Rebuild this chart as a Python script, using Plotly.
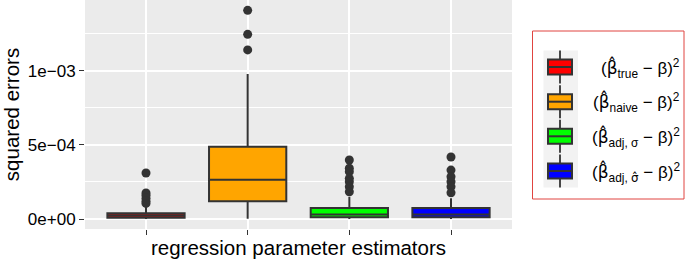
import plotly.graph_objects as go

# ---- data ----
estimators = ["true", "naive", "adj_sigma", "adj_sigmahat"]
positions = [1, 2, 3, 4]
fill_colors = ["#FF0000", "#FFA500", "#00FF00", "#0000FF"]
q1_vals = [0.8e-5, 1.19e-4, 1.1e-5, 1.1e-5]
median_vals = [2.35e-5, 2.65e-4, 3.0e-5, 3.0e-5]
q3_vals = [3.9e-5, 4.88e-4, 7.5e-5, 7.5e-5]
lower_vals = [0.0, 1.0e-6, 0.0, 0.0]
upper_vals = [8.3e-5, 9.78e-4, 1.5e-4, 1.4e-4]
outliers = [
    [3.1e-4, 1.75e-4, 1.6e-4, 1.4e-4, 1.2e-4, 1.05e-4],
    [1.407e-3, 1.245e-3, 1.14e-3],
    [3.98e-4, 3.42e-4, 3.19e-4, 2.74e-4, 2.52e-4, 2.18e-4, 1.84e-4],
    [4.18e-4, 3.30e-4, 2.85e-4, 2.52e-4, 2.18e-4, 1.77e-4],
]
HAT = '<span style="font-family:DejaVu Sans">β\u0302</span>'
legend_labels = [
    "(" + HAT + "<sub>true</sub> \u2212 β)<sup>2</sup>",
    "(" + HAT + "<sub>naive</sub> \u2212 β)<sup>2</sup>",
    "(" + HAT + "<sub>adj, σ</sub> \u2212 β)<sup>2</sup>",
    "(" + HAT + '<sub>adj, <span style="font-family:DejaVu Sans">σ\u0302</span></sub> \u2212 β)<sup>2</sup>',
]
y_tickvals = [0, 5e-4, 1e-3]
y_ticktext = ["0e+00", "5e\u221204", "1e\u221203"]

W, H = 685, 259
L, R, T, B = 85, 512, 0, 229
DARK = "#333333"
FONT = "Liberation Sans, Arial, sans-serif"

def px(x):
    return (x - L) / (R - L)

def py(y):
    return (B - y) / (B - T)

fig = go.Figure()
for i in range(4):
    fig.add_trace(go.Box(
        x=[positions[i]], q1=[q1_vals[i]], median=[median_vals[i]], q3=[q3_vals[i]],
        lowerfence=[lower_vals[i]], upperfence=[upper_vals[i]],
        fillcolor=fill_colors[i], line=dict(color=DARK, width=2),
        width=0.76, whiskerwidth=0, boxpoints=False, showlegend=False,
    ))
    fig.add_trace(go.Scatter(
        x=[positions[i]] * len(outliers[i]), y=outliers[i], mode="markers",
        marker=dict(color=DARK, size=9), showlegend=False,
    ))

fig.update_layout(
    width=W, height=H,
    margin=dict(l=L, r=W - R, t=T, b=H - B, autoexpand=False),
    paper_bgcolor="white", plot_bgcolor="#EBEBEB",
    font=dict(family=FONT, color="black"),
    showlegend=False,
)
fig.update_xaxes(
    range=[0.4, 4.6], tickvals=positions, ticktext=["", "", "", ""],
    showgrid=True, gridcolor="white", gridwidth=1.6, zeroline=False,
    ticks="outside", ticklen=5, tickwidth=1.2, tickcolor=DARK, automargin=False,
    title=dict(text="regression parameter estimators", font=dict(size=20.5, color="black"), standoff=6),
)
fig.update_yaxes(
    range=[-6.74e-5, 1.4767e-3], tickvals=y_tickvals, ticktext=y_ticktext,
    showgrid=True, gridcolor="white", gridwidth=1.6, zeroline=False,
    ticks="outside", ticklen=5, tickwidth=1.2, tickcolor=DARK, automargin=False,
    tickfont=dict(size=17, color="black"),
    minor=dict(tickvals=[2.5e-4, 7.5e-4, 1.25e-3], showgrid=True, gridcolor="white", gridwidth=0.8, ticks=""),
    title=dict(text="squared errors", font=dict(size=20.5, color="black"), standoff=6),
)

# ---- custom legend ----
shapes = []
shapes.append(dict(type="rect", xref="paper", yref="paper",
                   x0=px(532.5), x1=px(684), y0=py(31), y1=py(199),
                   line=dict(color="#E04440", width=1), fillcolor="white", layer="below"))
shapes.append(dict(type="rect", xref="paper", yref="paper",
                   x0=px(543.5), x1=px(578), y0=py(50.5), y1=py(187.5),
                   line=dict(width=0), fillcolor="#F2F2F2"))
centers = [67.0, 101.7, 136.3, 171.0]
for i, yc in enumerate(centers):
    shapes.append(dict(type="line", xref="paper", yref="paper",
                       x0=px(560), x1=px(560), y0=py(yc - 16.5), y1=py(yc + 16.5),
                       line=dict(color=DARK, width=1.8)))
    shapes.append(dict(type="rect", xref="paper", yref="paper",
                       x0=px(548), x1=px(572), y0=py(yc - 7.5), y1=py(yc + 7.5),
                       line=dict(color=DARK, width=2), fillcolor=fill_colors[i]))
    shapes.append(dict(type="line", xref="paper", yref="paper",
                       x0=px(548), x1=px(572), y0=py(yc), y1=py(yc),
                       line=dict(color=DARK, width=2)))
    fig.add_annotation(xref="paper", yref="paper", x=px(682), y=py(yc + 1),
                       text=legend_labels[i], showarrow=False,
                       xanchor="right", yanchor="middle",
                       font=dict(size=17, color="black", family=FONT))
fig.update_layout(shapes=shapes)

fig.write_html("out.html", config={"displayModeBar": False},
               post_script="document.body.style.margin='0';document.body.style.overflow='hidden';")
